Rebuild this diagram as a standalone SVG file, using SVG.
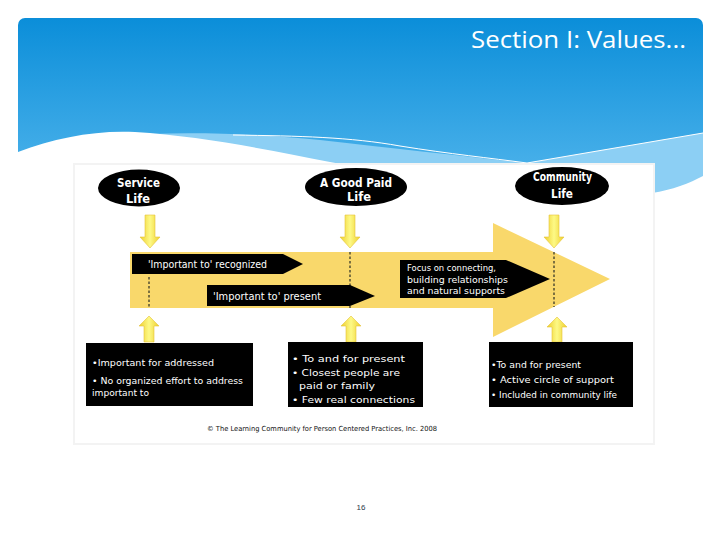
<svg xmlns="http://www.w3.org/2000/svg" width="720" height="540" viewBox="0 0 720 540">
<defs>
<linearGradient id="sky" x1="0" y1="0" x2="0" y2="1">
<stop offset="0" stop-color="#0b8ed9"/>
<stop offset="1" stop-color="#58b9ee"/>
</linearGradient>
<linearGradient id="yel" x1="0" y1="0" x2="1" y2="0">
<stop offset="0" stop-color="#eecf2c"/>
<stop offset="0.5" stop-color="#fdf986"/>
<stop offset="1" stop-color="#eecf2c"/>
</linearGradient>
<style>
.lbl{font-family:"DejaVu Sans","Liberation Sans",sans-serif;font-weight:bold;fill:#fff}
.btxt{font-family:"DejaVu Sans","Liberation Sans",sans-serif;fill:#fff}
.band{fill:#000}
.dash{stroke:#3a3a2a;stroke-width:1.3;stroke-dasharray:2.5,2;fill:none}
.ya{fill:url(#yel);stroke:#e6c23a;stroke-width:0.6}
</style>
</defs>
<rect width="720" height="540" fill="#fff"/>
<g id="header">
<rect x="18" y="18" width="685" height="190" rx="7" fill="url(#sky)"/>
<path d="M150,134 C210,132 270,135 320,140 C400,149 470,157 527,163 L703,133 L703,210 L150,210 Z" fill="#8ccff4"/>
<path d="M233,135 C300,136 350,137 400,146 C450,154 490,158 527,163 L703,133" fill="none" stroke="#ffffff" stroke-width="1"/>
<path d="M18,152 C55,138 95,130 135,132 C200,136 270,150 330,162 C400,176 500,186 580,192 L652,193 C672,190 690,183 703,176 L703,540 L18,540 Z" fill="#fff"/>
<text x="686" y="48" font-family="Open Sans,Noto Sans,sans-serif" font-size="24" fill="#fff" text-anchor="end" textLength="215" lengthAdjust="spacingAndGlyphs">Section I: Values...</text>
</g>
<g id="panel">
<rect x="73" y="163" width="582" height="282" fill="#f3f3f3"/>
<rect x="75" y="165" width="578" height="278" fill="#fff"/>
</g>
<g id="big-arrow">
<path d="M130,252 L493,252 L493,223 L610,279 L493,337 L493,308 L130,308 Z" fill="#f9d86b"/>
</g>
<g id="connectors">
<path class="dash" d="M149,277 V308"/>
<path class="dash" d="M350,252 V308"/>
<path class="dash" d="M554,252 V307"/>
<path class="ya" d="M145,215 H155 V237 H160 L150,248 L140,237 H145 Z"/>
<path class="ya" d="M345,215 H355 V237 H360 L350,248 L340,237 H345 Z"/>
<path class="ya" d="M549,215 H559 V237 H564 L554,248 L544,237 H549 Z"/>
<path class="ya" d="M144,342 H154 V326 H159 L149,316 L139,326 H144 Z"/>
<path class="ya" d="M346,342 H356 V326 H361 L351,316 L341,326 H346 Z"/>
<path class="ya" d="M552,342 H562 V327 H567 L557,317 L547,327 H552 Z"/>
</g>
<g id="service-life">
<ellipse cx="139" cy="188" rx="41" ry="18.5" fill="#000"/>
<text class="lbl" x="117" y="187" font-size="12" textLength="43" lengthAdjust="spacingAndGlyphs">Service</text>
<text class="lbl" x="126" y="203" font-size="12" textLength="24" lengthAdjust="spacingAndGlyphs">Life</text>
</g>
<g id="good-paid-life">
<ellipse cx="356" cy="187" rx="51" ry="19" fill="#000"/>
<text class="lbl" x="320" y="187" font-size="12" textLength="72" lengthAdjust="spacingAndGlyphs">A Good Paid</text>
<text class="lbl" x="347" y="201" font-size="12" textLength="24" lengthAdjust="spacingAndGlyphs">Life</text>
</g>
<g id="community-life">
<ellipse cx="562" cy="186" rx="47" ry="19" fill="#000"/>
<text class="lbl" x="533" y="181" font-size="12" textLength="59" lengthAdjust="spacingAndGlyphs">Community</text>
<text class="lbl" x="551" y="198" font-size="12" textLength="22" lengthAdjust="spacingAndGlyphs">Life</text>
</g>
<g id="band-recognized">
<path class="band" d="M132,254 L283,254 L303,264 L283,274 L132,274 Z"/>
<text class="btxt" x="148" y="268" font-size="10" textLength="119" lengthAdjust="spacingAndGlyphs">'Important to' recognized</text>
</g>
<g id="band-present">
<path class="band" d="M207,285 L350,285 L375,296 L350,306 L207,306 Z"/>
<text class="btxt" x="213" y="300" font-size="10" textLength="108" lengthAdjust="spacingAndGlyphs">'Important to' present</text>
</g>
<g id="band-focus">
<path class="band" d="M400,260 L506,260 L550,279 L506,298 L400,298 Z"/>
<text class="btxt" x="407" y="271" font-size="8.5" textLength="89" lengthAdjust="spacingAndGlyphs">Focus on connecting,</text>
<text class="btxt" x="407" y="282.5" font-size="8.5" textLength="101" lengthAdjust="spacingAndGlyphs">building relationships</text>
<text class="btxt" x="407" y="294" font-size="8.5" textLength="98" lengthAdjust="spacingAndGlyphs">and natural supports</text>
</g>
<g id="box-service">
<rect x="86" y="343" width="167" height="63" fill="#000"/>
<text class="btxt" x="92" y="366" font-size="9.5" textLength="122" lengthAdjust="spacingAndGlyphs">•Important for  addressed</text>
<text class="btxt" x="92" y="384" font-size="9.5" textLength="151" lengthAdjust="spacingAndGlyphs">• No organized effort to address</text>
<text class="btxt" x="92" y="396" font-size="9.5" textLength="57" lengthAdjust="spacingAndGlyphs">important to</text>
</g>
<g id="box-paid">
<rect x="288" y="342" width="135" height="65" fill="#000"/>
<text class="btxt" x="292" y="362" font-size="9" textLength="113" lengthAdjust="spacingAndGlyphs">• To and for present</text>
<text class="btxt" x="292" y="376" font-size="9" textLength="108" lengthAdjust="spacingAndGlyphs">• Closest people are</text>
<text class="btxt" x="299" y="389" font-size="9" textLength="76" lengthAdjust="spacingAndGlyphs">paid or family</text>
<text class="btxt" x="292" y="403" font-size="9" textLength="123" lengthAdjust="spacingAndGlyphs">• Few real connections</text>
</g>
<g id="box-community">
<rect x="489" y="342" width="144" height="65" fill="#000"/>
<text class="btxt" x="491" y="368" font-size="8.5" textLength="90" lengthAdjust="spacingAndGlyphs">•To and for present</text>
<text class="btxt" x="491" y="383" font-size="8.5" textLength="123" lengthAdjust="spacingAndGlyphs">• Active circle of support</text>
<text class="btxt" x="491" y="398" font-size="8.5" textLength="126" lengthAdjust="spacingAndGlyphs">• Included in community life</text>
</g>
<text x="322" y="431" font-family="DejaVu Sans,Liberation Sans,sans-serif" font-size="7" fill="#111" text-anchor="middle" textLength="230" lengthAdjust="spacingAndGlyphs">© The Learning Community for Person Centered Practices, Inc.  2008</text>
<text x="361" y="510" font-family="Liberation Sans,sans-serif" font-size="8" fill="#2a3a4a" text-anchor="middle">16</text>
</svg>
